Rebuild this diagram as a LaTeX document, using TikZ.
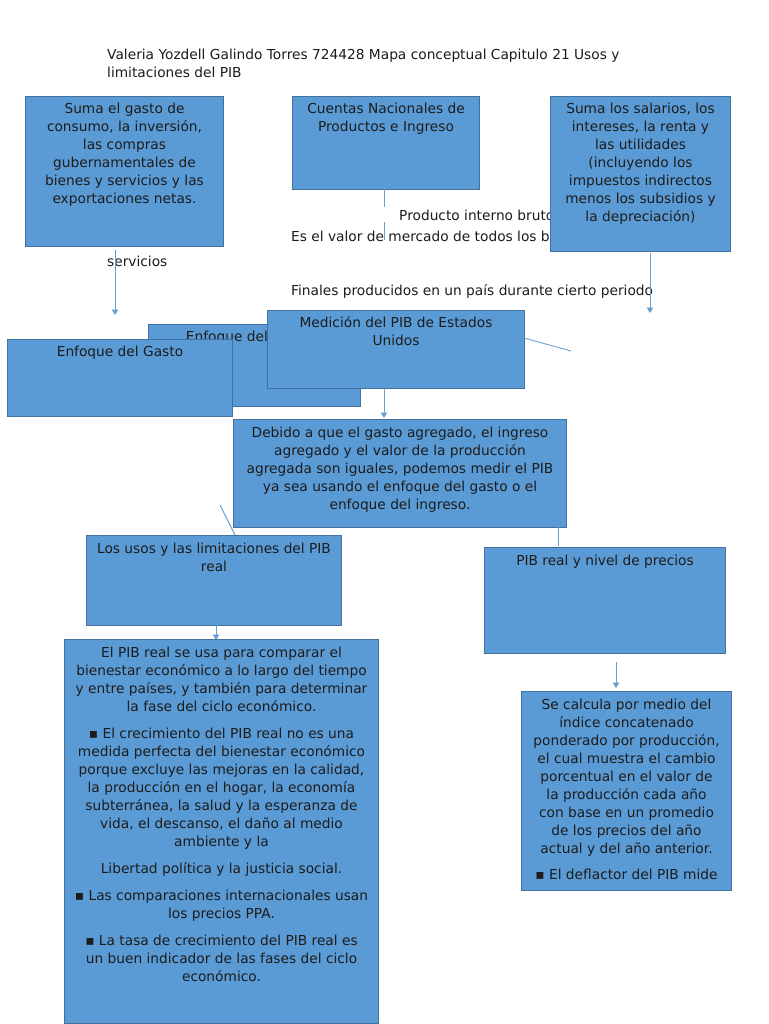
\documentclass[tikz,border=0pt]{standalone}
\usepackage{fontspec}
\setmainfont{DejaVu Sans}
\usetikzlibrary{arrows.meta}
\definecolor{boxfill}{HTML}{5B9BD5}
\definecolor{boxline}{HTML}{41719C}
\definecolor{linec}{HTML}{6A9FD4}
\definecolor{txtc}{HTML}{1C1C1C}
\newcommand\fst{\rule{0pt}{12pt}}
\begin{document}
\begin{tikzpicture}[x=1pt,y=-1pt,
  box/.style={draw=boxline, fill=boxfill, line width=1pt, inner sep=0pt, anchor=north west},
  txt/.style={text=txtc, font=\fontsize{13.75}{18}\selectfont, align=center, inner sep=0pt, anchor=north},
  free/.style={text=txtc, font=\fontsize{13.75}{18}\selectfont, inner sep=0pt, anchor=base west},
  conn/.style={draw=linec, line width=0.9pt},
  arr/.style={conn, -{Triangle[width=6.5pt,length=5.5pt]}}]
\useasboundingbox (0,0) rectangle (768,1024);
\fill[white] (0,0) rectangle (768,1024);

% title
\node[txt, align=left, anchor=north west] (title) at (107,47)
  {\fst Valeria Yozdell Galindo Torres 724428 Mapa conceptual Capitulo 21 Usos y\\limitaciones del PIB};

% free texts
\node[free] (pib) at (399,221) {Producto interno bruto};
\node[free] (valor) at (291,241) {Es el valor de mercado de todos los bienes y};
\node[free] (finales) at (291,295) {Finales producidos en un país durante cierto periodo};
\node[free] (serv) at (107,266) {servicios};

% top boxes
\node[box, minimum width=198pt, minimum height=150pt] (b1) at (25,96) {};
\node[txt] (t1) at ([yshift=-5.5pt]b1.north) {\fst Suma el gasto de\\consumo, la inversión,\\las compras\\gubernamentales de\\bienes y servicios y las\\exportaciones netas.};
\node[box, minimum width=187pt, minimum height=93pt] (b2) at (292,96) {};
\node[txt] (t2) at ([yshift=-5.5pt]b2.north) {\fst Cuentas Nacionales de\\Productos e Ingreso};
\node[box, minimum width=180pt, minimum height=155pt] (b3) at (550,96) {};
\node[txt] (t3) at ([yshift=-5.5pt]b3.north) {\fst Suma los salarios, los\\intereses, la renta y\\las utilidades\\(incluyendo los\\impuestos indirectos\\menos los subsidios y\\la depreciación)};

% connectors top
\coordinate (c1a) at (115,250); \coordinate (c1b) at (115,315);
\draw[arr] (c1a) -- (c1b);
\coordinate (c2a) at (384,189); \coordinate (c2b) at (384,207);
\coordinate (c2c) at (384,222); \coordinate (c2d) at (384,240);
\draw[conn] (c2a) -- (c2b);
\draw[conn] (c2c) -- (c2d);
\coordinate (c3a) at (650,253); \coordinate (c3b) at (650,313);
\draw[arr] (c3a) -- (c3b);

% middle boxes
\node[box, minimum width=212pt, minimum height=82pt] (bing) at (148,324) {};
\node[txt] (ting) at ([yshift=-5pt]bing.north) {\fst Enfoque del Ingreso};
\node[box, minimum width=225pt, minimum height=77pt] (bgas) at (7,339) {};
\node[txt] (tgas) at ([yshift=-5.5pt]bgas.north) {\fst Enfoque del Gasto};
\node[box, minimum width=257pt, minimum height=78pt] (bmed) at (267,310) {};
\node[txt] (tmed) at ([yshift=-5.5pt]bmed.north) {\fst Medición del PIB de Estados\\Unidos};

\coordinate (c4a) at (524,338); \coordinate (c4b) at (571,351);
\draw[conn] (c4a) -- (c4b);
\coordinate (c5a) at (384,389); \coordinate (c5b) at (384,418);
\draw[arr] (c5a) -- (c5b);

\node[box, minimum width=333pt, minimum height=108pt] (bdeb) at (233,419) {};
\node[txt] (tdeb) at ([yshift=-6pt]bdeb.north) {\fst Debido a que el gasto agregado, el ingreso\\agregado y el valor de la producción\\agregada son iguales, podemos medir el PIB\\ya sea usando el enfoque del gasto o el\\enfoque del ingreso.};

\coordinate (c6a) at (220,505); \coordinate (c6b) at (235,535);
\draw[conn] (c6a) -- (c6b);
\coordinate (c7a) at (558,527); \coordinate (c7b) at (558,546);
\draw[conn] (c7a) -- (c7b);

\node[box, minimum width=255pt, minimum height=90pt] (busos) at (86,535) {};
\node[txt] (tusos) at ([yshift=-6pt]busos.north) {\fst Los usos y las limitaciones del PIB\\real};
\node[box, minimum width=241pt, minimum height=106pt] (breal) at (484,547) {};
\node[txt] (treal) at ([yshift=-6pt]breal.north) {\fst PIB real y nivel de precios};

\coordinate (c8a) at (216,625); \coordinate (c8b) at (216,640);
\draw[arr] (c8a) -- (c8b);
\coordinate (c9a) at (616,662); \coordinate (c9b) at (616,688);
\draw[arr] (c9a) -- (c9b);

% bottom boxes
\node[box, minimum width=314pt, minimum height=384pt] (bbig) at (64,639) {};
\node[txt] (tbig) at ([yshift=-6.5pt]bbig.north) {\fst El PIB real se usa para comparar el\\bienestar económico a lo largo del tiempo\\y entre países, y también para determinar\\la fase del ciclo económico.\\[9pt]▪ El crecimiento del PIB real no es una\\medida perfecta del bienestar económico\\porque excluye las mejoras en la calidad,\\la producción en el hogar, la economía\\subterránea, la salud y la esperanza de\\vida, el descanso, el daño al medio\\ambiente y la\\[9pt]Libertad política y la justicia social.\\[9pt]▪ Las comparaciones internacionales usan\\los precios PPA.\\[9pt]▪ La tasa de crecimiento del PIB real es\\un buen indicador de las fases del ciclo\\económico.};
\node[box, minimum width=210pt, minimum height=199pt] (bcal) at (521,691) {};
\node[txt] (tcal) at ([yshift=-6.5pt]bcal.north) {\fst Se calcula por medio del\\índice concatenado\\ponderado por producción,\\el cual muestra el cambio\\porcentual en el valor de\\la producción cada año\\con base en un promedio\\de los precios del año\\actual y del año anterior.\\[8pt]▪ El deflactor del PIB mide};
\end{tikzpicture}
\end{document}
